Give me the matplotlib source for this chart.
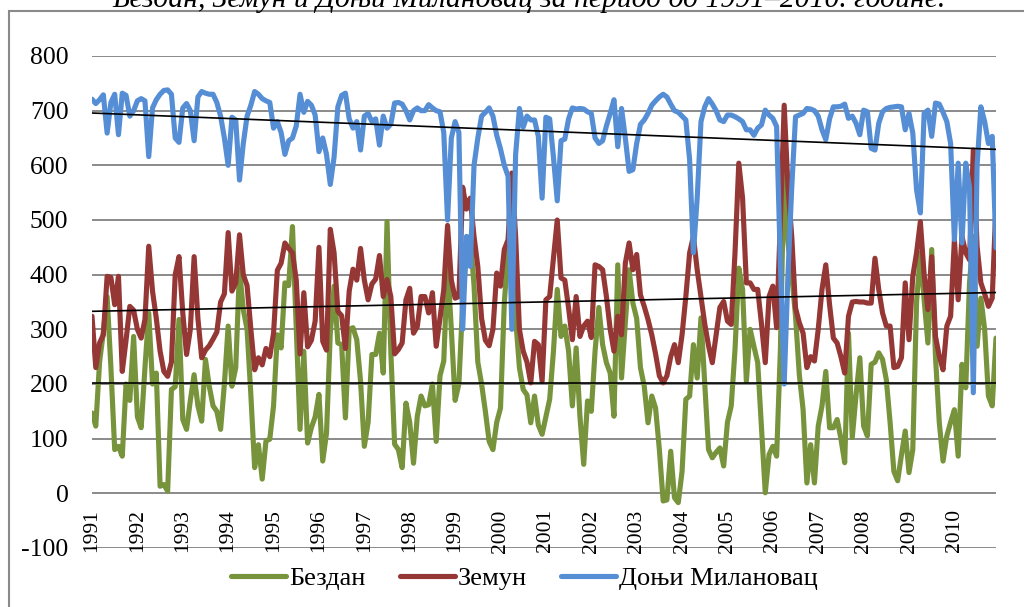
import numpy as np
import matplotlib
matplotlib.use("Agg")
import matplotlib.pyplot as plt
from matplotlib.patches import Rectangle
from matplotlib.transforms import ScaledTranslation

# Monthly discharge-like series, January 1991 - December 2010 (12 values per row)
bezdan = [
    147, 123, 240, 295, 360, 230, 80, 86, 68, 200, 170, 287,
    140, 120, 230, 330, 200, 220, 13, 16, 4, 190, 195, 318,
    135, 117, 170, 217, 160, 132, 245, 196, 160, 150, 117, 200,
    306, 196, 230, 410, 336, 300, 180, 47, 89, 26, 96, 99,
    160, 290, 266, 385, 380, 488, 300, 117, 260, 92, 120, 140,
    181, 59, 110, 293, 379, 275, 272, 138, 300, 303, 281, 205,
    86, 130, 254, 254, 293, 220, 497, 260, 90, 80, 47, 165,
    130, 55, 141, 178, 160, 162, 200, 95, 215, 242, 420, 300,
    170, 200, 350, 446, 470, 380, 240, 200, 150, 95, 80, 130,
    156, 348, 446, 494, 320, 230, 190, 180, 129, 178, 125, 108,
    140, 172, 260, 373, 287, 306, 260, 160, 266, 141, 53, 169,
    150, 260, 340, 272, 239, 220, 141, 418, 211, 312, 409, 348,
    320, 230, 196, 129, 178, 156, 80, -14, -12, 77, -8, -17,
    40, 172, 178, 272, 211, 321, 200, 80, 65, 75, 83, 50,
    130, 160, 263, 412, 373, 205, 300, 269, 239, 120, 1, 71,
    86, 68, 263, 610, 458, 400, 324, 217, 153, 19, 89, 19,
    123, 160, 223, 120, 120, 135, 100, 56, 293, 102, 180, 248,
    123, 105, 236, 240, 257, 245, 208, 130, 40, 23, 70, 114,
    38, 80, 350, 440, 354, 275, 446, 250, 130, 59, 105, 130,
    153, 68, 236, 193, 385, 470, 269, 357, 300, 178, 160, 284,
]

zemun = [
    324, 230, 275, 290, 397, 395, 345, 397, 223, 280, 342, 335,
    300, 284, 318, 452, 370, 320, 260, 223, 214, 240, 400, 433,
    330, 254, 300, 433, 320, 248, 262, 270, 282, 295, 350, 365,
    477, 370, 385, 473, 400, 380, 300, 226, 248, 235, 265, 250,
    293, 408, 421, 458, 448, 440, 390, 255, 367, 268, 280, 315,
    450, 278, 262, 483, 440, 333, 325, 265, 370, 410, 390, 448,
    390, 354, 383, 392, 435, 360, 391, 360, 255, 263, 275, 354,
    375, 293, 305, 360, 360, 330, 367, 269, 320, 373, 490, 390,
    357, 360, 560, 520, 540, 470, 415, 320, 280, 270, 300, 403,
    379, 446, 464, 586, 470, 300, 260, 240, 202, 278, 272, 205,
    354, 360, 430, 500, 394, 390, 339, 281, 360, 287, 306, 315,
    285, 418, 415, 409, 360, 300, 260, 324, 290, 421, 458, 409,
    437, 363, 342, 318, 290, 255, 215, 202, 215, 250, 272, 239,
    290, 360, 440, 470, 409, 360, 310, 270, 239, 290, 340, 351,
    315, 309, 440, 604, 540, 385, 385, 373, 373, 310, 239, 360,
    379, 303, 500, 710, 560, 470, 339, 312, 293, 230, 250, 242,
    300, 373, 418, 345, 284, 275, 250, 220, 324, 350, 351, 350,
    350, 348, 348, 430, 373, 330, 306, 306, 230, 232, 248, 385,
    281, 397, 440, 497, 400, 336, 433, 287, 251, 226, 306, 324,
    464, 354, 470, 440, 427, 628, 452, 385, 365, 342, 357, 531,
]

donji_milanovac = [
    721, 713, 720, 729, 659, 715, 730, 656, 732, 728, 690, 700,
    718, 722, 718, 616, 705, 720, 730, 737, 738, 730, 650, 642,
    705, 713, 700, 645, 725, 735, 732, 730, 730, 715, 690, 650,
    600, 688, 683, 573, 640, 690, 710, 735, 730, 722, 718, 715,
    668, 680, 660, 620, 645, 650, 672, 730, 697, 717, 710, 692,
    625, 650, 620, 565, 615, 707, 728, 732, 685, 668, 680, 628,
    690, 695, 680, 685, 637, 690, 668, 675, 714, 715, 712, 700,
    683, 700, 705, 700, 700, 711, 705, 700, 698, 660, 500, 650,
    680, 660, 300, 470, 415, 600, 650, 690, 697, 705, 690, 655,
    630, 600, 580, 300, 620, 704, 670, 690, 683, 683, 653, 540,
    688, 685, 615, 535, 645, 648, 685, 705, 703, 704, 703, 698,
    695, 650, 640, 645, 672, 695, 720, 634, 704, 650, 589, 592,
    640, 675, 683, 695, 710, 718, 725, 730, 725, 712, 700, 697,
    690, 683, 610, 440, 540, 680, 707, 722, 712, 700, 683, 680,
    692, 692, 689, 685, 680, 665, 665, 655, 668, 674, 701, 692,
    686, 671, 420, 200, 400, 560, 689, 692, 695, 704, 703, 700,
    690, 665, 647, 685, 707, 707, 708, 712, 686, 690, 677, 656,
    701, 698, 631, 628, 677, 698, 704, 706, 707, 708, 707, 665,
    695, 659, 555, 513, 695, 701, 653, 714, 712, 697, 680, 640,
    464, 604, 458, 604, 560, 184, 600, 707, 680, 640, 653, 449,
]

years = list(range(1991, 2011))
series_names = ["Бездан", "Земун", "Доњи Милановац"]
series_colors = ["#77933C", "#953735", "#558ED5"]
title = "Бездан, Земун и Доњи Милановац за период од 1991–2010. године."

serif = ["Liberation Serif", "DejaVu Serif"]
plt.rcParams["font.family"] = serif
plt.rcParams["axes.unicode_minus"] = False

fig = plt.figure(figsize=(10.24, 6.07), dpi=100)
ax = fig.add_axes([92 / 1024, 1 - 548 / 607, (996 - 92) / 1024, (548 - 56) / 607])

x = np.arange(len(bezdan))
all_series = [bezdan, zemun, donji_milanovac]

for values, name, color in zip(all_series, series_names, series_colors):
    ax.plot(x, values, color=color, lw=3.7, label=name,
            solid_joinstyle="round", solid_capstyle="round", zorder=3)

# Linear trend of each series
for values in all_series:
    k, b = np.polyfit(x, values, 1)
    ax.plot(x, k * x + b, color="black", lw=1.2, zorder=4)

ax.set_xlim(0, len(x) - 1)
ax.set_ylim(-100, 800)
ax.set_yticks(range(-100, 801, 100))
ax.tick_params(axis="y", length=0, pad=17, labelsize=18.5)
ax.set_xticks([])
ax.yaxis.grid(True, color="#8a8a8a", lw=1.4)
ax.set_axisbelow(True)
for s in ax.spines.values():
    s.set_visible(False)

# Year labels sit just under the zero line, one per January
shift = ScaledTranslation(0, -16 / 100, fig.dpi_scale_trans)
for k, yr in enumerate(years):
    ax.text(k * 12, 0, str(yr), rotation=90, ha="center", va="top",
            fontsize=15.5, transform=ax.transData + shift, zorder=5)

fig.legend(loc="center", bbox_to_anchor=(0.512, 1 - 578 / 607), ncol=3,
           frameon=False, fontsize=19, handlelength=2.1, handletextpad=0.1,
           columnspacing=1.3)

fig.text(0.517, 1 - 7 / 607, title, ha="center", va="baseline",
         style="italic", fontsize=21.3)

fig.add_artist(Rectangle((8.5 / 1024, -0.1), 1.2, (1 - 11 / 607) + 0.1,
                         transform=fig.transFigure, fill=False,
                         edgecolor="#8a8a8a", lw=1.5))

fig.savefig("out.png", dpi=100)
